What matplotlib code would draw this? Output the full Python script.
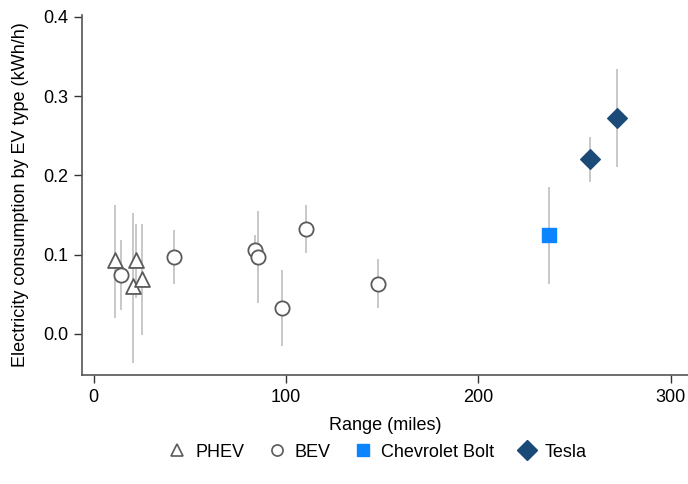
import matplotlib.pyplot as plt
from matplotlib.lines import Line2D

plt.rcParams['font.family'] = ['Liberation Sans', 'DejaVu Sans']

# PHEV (triangles)
phev_range = [11.2, 20.2, 22.2, 25.3]
phev_val = [0.093, 0.060, 0.093, 0.069]
phev_lo = [0.020, -0.037, 0.045, -0.001]
phev_hi = [0.163, 0.153, 0.139, 0.139]

# BEV (circles)
bev_range = [14.0, 41.5, 83.7, 85.3, 97.7, 110.6, 147.8]
bev_val = [0.074, 0.097, 0.106, 0.097, 0.033, 0.132, 0.063]
bev_lo = [0.030, 0.063, 0.087, 0.039, -0.015, 0.102, 0.033]
bev_hi = [0.119, 0.131, 0.125, 0.155, 0.081, 0.163, 0.095]

# Chevrolet Bolt
bolt_range = [236.7]
bolt_val = [0.125]
bolt_lo = [0.063]
bolt_hi = [0.186]

# Tesla
tesla_range = [257.9, 272.3]
tesla_val = [0.221, 0.272]
tesla_lo = [0.192, 0.211]
tesla_hi = [0.248, 0.334]

ERR = "#c8c8c8"
EDGE = "#5a5a5a"
BOLT = "#0a84ff"
TESLA = "#1b4a78"
FS = 13

fig = plt.figure(figsize=(6.88, 4.84), dpi=100)
ax = fig.add_axes([0.119, 0.225, 0.881, 0.744])


def bars(xs, lo, hi):
    ax.vlines(xs, lo, hi, color=ERR, linewidth=1.4, zorder=1)


bars(phev_range, phev_lo, phev_hi)
bars(bev_range, bev_lo, bev_hi)
bars(bolt_range, bolt_lo, bolt_hi)
bars(tesla_range, tesla_lo, tesla_hi)

ax.scatter(phev_range, phev_val, marker="^", s=115, facecolors="white",
           edgecolors=EDGE, linewidths=1.3, zorder=3)
ax.scatter(bev_range, bev_val, marker="o", s=105, facecolors="white",
           edgecolors=EDGE, linewidths=1.3, zorder=3)
ax.scatter(bolt_range, bolt_val, marker="s", s=100, color=BOLT, zorder=3)
ax.scatter(tesla_range, tesla_val, marker="D", s=100, color=TESLA, zorder=3)

ax.set_xlim(-6.2, 309)
ax.set_ylim(-0.052, 0.4025)
ax.set_xticks([0, 100, 200, 300])
ax.set_yticks([0.0, 0.1, 0.2, 0.3, 0.4])
ax.set_yticklabels(["0.0", "0.1", "0.2", "0.3", "0.4"])
ax.tick_params(labelsize=FS, length=6, width=1, color="#333333", pad=4)
for side in ["top", "right"]:
    ax.spines[side].set_visible(False)
for side in ["left", "bottom"]:
    ax.spines[side].set_color("#555555")
    ax.spines[side].set_linewidth(1.2)

ax.set_xlabel("Range (miles)", fontsize=FS, labelpad=8)
ax.set_ylabel("Electricity consumption by EV type (kWh/h)", fontsize=FS, labelpad=10)

handles = [
    Line2D([], [], marker="^", linestyle="", markersize=9, markerfacecolor="white",
           markeredgecolor=EDGE, markeredgewidth=1.2, label="PHEV"),
    Line2D([], [], marker="o", linestyle="", markersize=8, markerfacecolor="white",
           markeredgecolor=EDGE, markeredgewidth=1.2, label="BEV"),
    Line2D([], [], marker="s", linestyle="", markersize=9, color=BOLT, label="Chevrolet Bolt"),
    Line2D([], [], marker="D", linestyle="", markersize=10, color=TESLA, label="Tesla"),
]
fig.legend(handles=handles, loc="center", bbox_to_anchor=(0.545, 0.066), ncol=4,
           frameon=False, fontsize=FS, handletextpad=0.2, columnspacing=1.0,
           handlelength=1.6)

fig.savefig("out.png", dpi=100)
